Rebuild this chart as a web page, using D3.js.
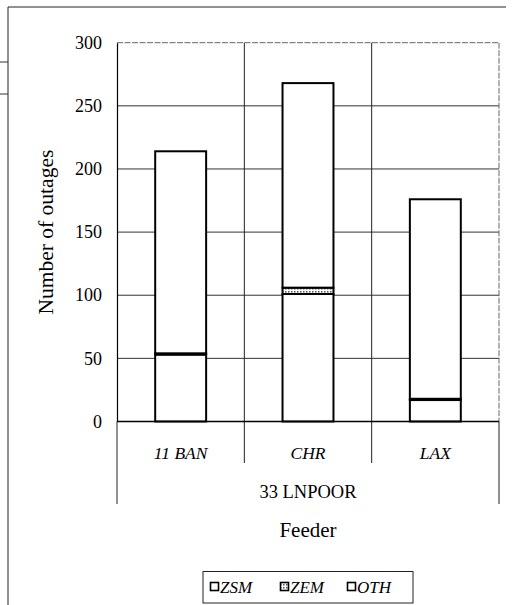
<!DOCTYPE html>
<html>
<head>
<meta charset="utf-8">
<script src="https://cdn.jsdelivr.net/npm/d3@7"></script>
<style>
  #chart text { font-family: "Liberation Serif", "Times New Roman", Tinos, Times !important; }
</style>
</head>
<body style="margin:0">
<svg id="chart" width="515" height="605"></svg>
<script>
// Feeders (inner category level) and the group they belong to
const feeders = ["11 BAN", "CHR", "LAX"];
const group = "33 LNPOOR";

// Outage counts per cause, stacked bottom to top
const causes = ["ZSM", "ZEM", "OTH"];
const zsm = [53, 101, 17];
const zem = [1, 5, 1];
const oth = [160, 162, 158];

const yTicks = [0, 50, 100, 150, 200, 250, 300];

const FONT = "'Liberation Serif', 'Times New Roman', Tinos, Times";
const svg = d3.select("#chart");

// Serif text helper
function serif(sel, size, italic) {
  return sel
    .attr("font-family", "Liberation Serif")
    .style("font-family", FONT, "important")
    .style("font-size", size + "px")
    .style("font-style", italic ? "italic" : "normal")
    .attr("fill", "#000");
}

// Hatched fill used for the ZEM segments
const defs = svg.append("defs");
const pat = defs.append("pattern")
  .attr("id", "zemFill").attr("patternUnits", "userSpaceOnUse")
  .attr("width", 3).attr("height", 3);
pat.append("rect").attr("width", 3).attr("height", 3).attr("fill", "#fff");
pat.append("rect").attr("width", 1.5).attr("height", 1.5).attr("fill", "#555");

const fills = { ZSM: "#fff", ZEM: "url(#zemFill)", OTH: "#fff" };

// Page frame
svg.append("path")
  .attr("d", "M8,605 L8,7 L506,7")
  .attr("fill", "none").attr("stroke", "#222").attr("stroke-width", 1);
svg.append("line").attr("x1", 0).attr("x2", 8).attr("y1", 62).attr("y2", 62)
  .attr("stroke", "#333").attr("stroke-width", 1);
svg.append("line").attr("x1", 0).attr("x2", 8).attr("y1", 94).attr("y2", 94)
  .attr("stroke", "#333").attr("stroke-width", 1);

const plotL = 117, plotR = 499, plotT = 42.7, plotB = 421.5;

const x = d3.scaleBand().domain(feeders).range([plotL, plotR]).padding(0);
const y = d3.scaleLinear().domain([0, 300]).range([plotB, plotT]);

// Horizontal gridlines
svg.append("g").selectAll("line").data(yTicks.filter(d => d > 0)).join("line")
  .attr("x1", plotL).attr("x2", plotR)
  .attr("y1", d => y(d)).attr("y2", d => y(d))
  .attr("stroke", d => d === 300 ? "#666" : "#333")
  .attr("stroke-width", 1)
  .attr("stroke-dasharray", d => d === 300 ? "6,1.5" : null);

// Right edge of the plot area
svg.append("line").attr("x1", plotR).attr("x2", plotR)
  .attr("y1", plotT).attr("y2", plotB)
  .attr("stroke", "#666").attr("stroke-width", 1).attr("stroke-dasharray", "6,1.5");

// Dividers between feeders, continuing into the label area
const inner = feeders.slice(1).map(f => x(f));
svg.append("g").selectAll("line").data(inner).join("line")
  .attr("x1", d => d).attr("x2", d => d)
  .attr("y1", plotT).attr("y2", 463)
  .attr("stroke", "#222").attr("stroke-width", 1);

// Outer dividers enclosing the group label
svg.append("g").selectAll("line").data([plotL, plotR]).join("line")
  .attr("x1", d => d).attr("x2", d => d)
  .attr("y1", plotB).attr("y2", 504)
  .attr("stroke", "#222").attr("stroke-width", 1);

// Stacked bars
const rows = feeders.map((f, i) => ({ feeder: f, ZSM: zsm[i], ZEM: zem[i], OTH: oth[i] }));
const series = d3.stack().keys(causes)(rows);
const barW = x.bandwidth() * 0.4;

svg.append("g").selectAll("g").data(series).join("g")
  .attr("fill", s => fills[s.key])
  .selectAll("rect").data(s => s).join("rect")
  .attr("x", d => x(d.data.feeder) + (x.bandwidth() - barW) / 2)
  .attr("y", d => y(d[1]))
  .attr("width", barW)
  .attr("height", d => y(d[0]) - y(d[1]))
  .attr("stroke", "#000").attr("stroke-width", 2);

// Y axis
const yAxis = svg.append("g")
  .attr("transform", `translate(${plotL},0)`)
  .call(d3.axisLeft(y).tickValues(yTicks).tickSize(0).tickPadding(15));
yAxis.attr("font-family", "Liberation Serif").attr("font-size", 18);
yAxis.select(".domain").attr("stroke", "#000").attr("stroke-width", 1.2);
serif(yAxis.selectAll("text"), 18, false);

// X axis baseline
svg.append("line").attr("x1", plotL).attr("x2", plotR)
  .attr("y1", plotB).attr("y2", plotB)
  .attr("stroke", "#000").attr("stroke-width", 1.5);

// Feeder labels
serif(svg.append("g").selectAll("text").data(feeders).join("text")
  .attr("x", d => x(d) + x.bandwidth() / 2)
  .attr("y", 459)
  .attr("text-anchor", "middle")
  .text(d => d), 17.5, true);

// Group label
serif(svg.append("text")
  .attr("x", (plotL + plotR) / 2).attr("y", 498)
  .attr("text-anchor", "middle")
  .text(group), 18.5, false);

// Axis titles
serif(svg.append("text")
  .attr("x", (plotL + plotR) / 2).attr("y", 537)
  .attr("text-anchor", "middle")
  .text("Feeder"), 21, false);

serif(svg.append("text")
  .attr("transform", `translate(53,${(plotT + plotB) / 2}) rotate(-90)`)
  .attr("text-anchor", "middle")
  .text("Number of outages"), 21.5, false);

// Legend
const legend = svg.append("g");
legend.append("rect")
  .attr("x", 203).attr("y", 571.5).attr("width", 210).attr("height", 31.5)
  .attr("fill", "#fff").attr("stroke", "#222").attr("stroke-width", 1);
const legendX = [210, 280, 347];
const item = legend.selectAll("g.item").data(causes).join("g")
  .attr("class", "item")
  .attr("transform", (d, i) => `translate(${legendX[i]},587)`);
item.append("rect")
  .attr("x", 0.5).attr("y", -4.5).attr("width", 8).attr("height", 8)
  .attr("fill", d => fills[d]).attr("stroke", "#000").attr("stroke-width", 1.6);
serif(item.append("text")
  .attr("x", 10).attr("y", 5.5)
  .text(d => d), 17, true);
</script>
</body>
</html>
